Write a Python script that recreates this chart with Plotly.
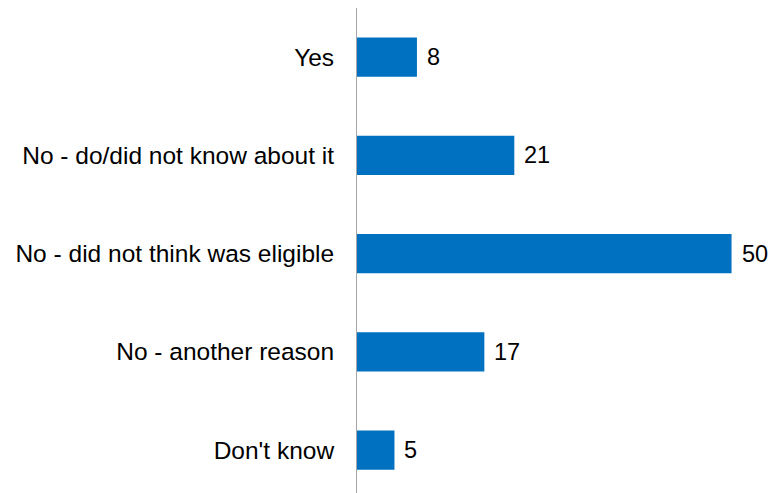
import plotly.graph_objects as go

categories = [
    "Yes",
    "No - do/did not know about it",
    "No - did not think was eligible",
    "No - another reason",
    "Don't know",
]
values = [8, 21, 50, 17, 5]

BAR_COLOR = "#0070C0"
FONT = "Liberation Sans, Arial, sans-serif"

fig = go.Figure(
    go.Bar(
        x=values,
        y=categories,
        orientation="h",
        width=0.4,
        marker=dict(color=BAR_COLOR, line=dict(width=0)),
        hoverinfo="skip",
    )
)

# value labels just past the end of each bar
for cat, v in zip(categories, values):
    fig.add_annotation(
        x=v, y=cat, text=str(v), showarrow=False,
        xanchor="left", yanchor="middle", xshift=8,
        font=dict(family=FONT, size=23.5, color="#000000"),
    )

fig.update_layout(
    width=769, height=493,
    margin=dict(l=357, r=0, t=8, b=0),
    paper_bgcolor="white", plot_bgcolor="white",
    showlegend=False,
    font=dict(family=FONT, size=24, color="#000000"),
    xaxis=dict(
        range=[0, 55], visible=False, showgrid=False, zeroline=False,
    ),
    yaxis=dict(
        type="category",
        categoryorder="array", categoryarray=categories,
        range=[4.436, -0.5],
        showline=True, linecolor="#A6A6A6", linewidth=1,
        ticks="", showgrid=False, zeroline=False,
        ticklabelstandoff=17,
        tickfont=dict(family=FONT, size=24.5, color="#000000"),
    ),
)

fig.write_html("out.html")
